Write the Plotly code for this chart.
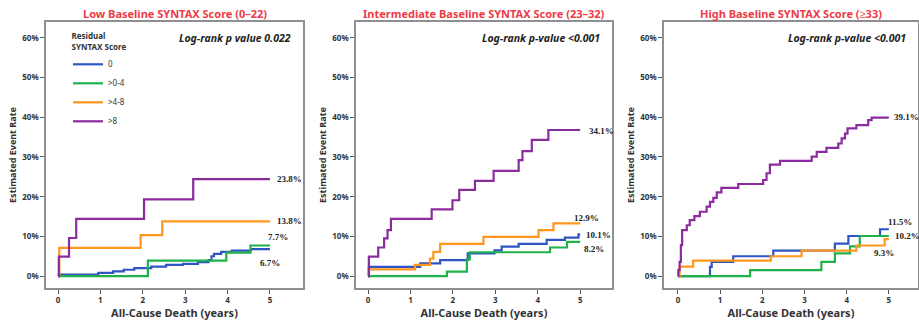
import plotly.graph_objects as go

# ---------------- data ----------------
panel_titles = ["Low Baseline SYNTAX Score (0–22)",
                "Intermediate Baseline SYNTAX Score (23–32)",
                "High Baseline SYNTAX Score (≥33)"]
pvalue_texts = ["Log-rank p value 0.022",
                "Log-rank p-value <0.001",
                "Log-rank p-value <0.001"]
group_names = ["0", ">0-4", ">4-8", ">8"]
group_colors = ["#2f55c4", "#1fb24a", "#ff961e", "#8a2c9e"]

y_tick_vals = [0, 10, 20, 30, 40, 50, 60]
y_tick_text = ["0%", "10%", "20%", "30%", "40%", "50%", "60%"]
x_tick_vals = [0, 1, 2, 3, 4, 5]

# Panel 1 (low)
p1_blue_t = [0, 0.02, 0.95, 1.3, 1.55, 1.8, 2.2, 2.55, 2.95, 3.3, 3.55, 3.62, 3.68, 3.85, 4.1, 4.55, 5.0]
p1_blue_v = [0, 0.4, 0.8, 1.2, 1.6, 2.0, 2.4, 2.8, 3.1, 3.5, 4.0, 5.0, 5.6, 6.1, 6.4, 6.8, 6.8]
p1_green_t = [0, 2.12, 3.97, 4.54, 5.0]
p1_green_v = [0, 3.9, 5.9, 7.7, 7.7]
p1_orange_t = [0, 0.03, 1.95, 2.46, 5.0]
p1_orange_v = [0, 7.1, 10.3, 13.8, 13.8]
p1_purple_t = [0, 0.02, 0.26, 0.43, 2.03, 3.19, 5.0]
p1_purple_v = [0, 4.9, 9.6, 14.4, 19.3, 24.4, 24.4]

# Panel 2 (intermediate)
p2_blue_t = [0, 0.02, 1.23, 1.70, 2.35, 2.98, 3.15, 3.55, 4.21, 4.64, 4.96, 5.0]
p2_blue_v = [0, 2.3, 3.2, 4.0, 5.7, 6.5, 7.4, 8.1, 9.1, 9.7, 10.5, 10.5]
p2_green_t = [0, 1.86, 2.33, 2.40, 4.29, 4.69, 5.0]
p2_green_v = [0, 1.1, 4.2, 6.0, 7.2, 8.6, 8.6]
p2_orange_t = [0, 0.02, 1.11, 1.46, 1.54, 1.70, 2.72, 4.02, 4.37, 5.0]
p2_orange_v = [0, 1.7, 2.8, 4.4, 6.1, 8.1, 9.9, 11.6, 13.3, 13.3]
p2_purple_t = [0, 0.02, 0.24, 0.38, 0.46, 0.54, 1.50, 1.99, 2.15, 2.52, 2.96, 3.55, 3.64, 3.86, 4.25, 5.0]
p2_purple_v = [0, 4.9, 7.2, 9.5, 11.6, 14.4, 16.8, 19.1, 21.7, 24.0, 26.5, 29.2, 31.5, 34.3, 36.8, 36.8]

# Panel 3 (high)
p3_blue_t = [0, 0.76, 0.80, 1.31, 2.26, 3.72, 4.04, 4.79, 5.0]
p3_blue_v = [0, 2.3, 3.6, 5.0, 6.4, 8.2, 10.1, 11.8, 11.8]
p3_green_t = [0, 1.71, 3.40, 3.72, 4.08, 4.31, 5.0]
p3_green_v = [0, 1.5, 3.6, 5.7, 7.5, 10.1, 10.1]
p3_orange_t = [0, 0.04, 0.36, 2.20, 2.93, 4.23, 4.90, 5.0]
p3_orange_v = [0, 2.4, 3.9, 5.0, 6.4, 7.7, 9.3, 9.3]
p3_purple_t = [0, 0.01, 0.04, 0.07, 0.10, 0.21, 0.28, 0.39, 0.52, 0.68, 0.76, 0.84, 0.92, 1.03, 1.43,
               2.02, 2.10, 2.18, 2.42, 3.17, 3.29, 3.52, 3.80, 3.88, 3.96, 4.02, 4.23, 4.51, 4.59, 5.0]
p3_purple_v = [0, 1.5, 3.6, 7.8, 11.6, 12.8, 14.1, 15.1, 16.2, 17.5, 18.7, 19.7, 21.1, 22.2, 23.2,
               24.2, 25.9, 28.1, 29.0, 30.1, 31.3, 32.3, 33.4, 34.7, 35.9, 37.2, 38.0, 39.3, 39.9, 39.9]

# end-of-curve labels (text, x, y)
p1_labels = ["23.8%", "13.8%", "7.7%", "6.7%"]
p1_label_x = [5.12, 5.12, 4.9, 4.72]
p1_label_y = [24.4, 14.0, 9.9, 3.3]
p2_labels = ["34.1%", "12.9%", "10.1%", "8.2%"]
p2_label_x = [5.15, 4.8, 5.1, 5.05]
p2_label_y = [36.6, 14.7, 10.4, 6.9]
p3_labels = ["39.1%", "11.5%", "10.2%", "9.3%"]
p3_label_x = [5.08, 4.93, 5.1, 4.6]
p3_label_y = [40.0, 13.6, 10.2, 5.8]

panels = [
    [(p1_blue_t, p1_blue_v), (p1_green_t, p1_green_v), (p1_orange_t, p1_orange_v), (p1_purple_t, p1_purple_v)],
    [(p2_blue_t, p2_blue_v), (p2_green_t, p2_green_v), (p2_orange_t, p2_orange_v), (p2_purple_t, p2_purple_v)],
    [(p3_blue_t, p3_blue_v), (p3_green_t, p3_green_v), (p3_orange_t, p3_orange_v), (p3_purple_t, p3_purple_v)],
]
labels = [(p1_labels, p1_label_x, p1_label_y), (p2_labels, p2_label_x, p2_label_y), (p3_labels, p3_label_x, p3_label_y)]

# ---------------- layout ----------------
W, H = 919, 324
x_domains_px = [(46, 303), (356, 612), (664, 918)]
x_ranges = [(-0.283, 5.78), (-0.283, 5.75), (-0.33, 5.69)]
y_range = (-3.0, 64.0)
y_dom = (1 - 288 / H, 1 - 22 / H)

FONT = "Noto Sans"
frame_col = "#8f8f8f"
text_col = "#333333"

fig = go.Figure()
for i, series in enumerate(panels):
    xa = "x" if i == 0 else f"x{i+1}"
    ya = "y" if i == 0 else f"y{i+1}"
    for j, (t, v) in enumerate(series):
        fig.add_trace(go.Scatter(
            x=t, y=v, mode="lines", line=dict(color=group_colors[j], width=2.2, shape="hv"),
            name=group_names[j], showlegend=(i == 0), xaxis=xa, yaxis=ya, hoverinfo="skip"))

annotations = []
for i in range(3):
    sfx = "" if i == 0 else str(i + 1)
    d0, d1 = x_domains_px[i]
    axis_common = dict(showgrid=False, zeroline=False, showline=True, mirror=True,
                       linecolor=frame_col, linewidth=1.5, ticks="outside", ticklen=4,
                       tickcolor="#555555", tickwidth=1,
                       tickfont=dict(family=FONT, size=8, color=text_col, weight="bold"))
    fig.layout[f"xaxis{sfx}"] = dict(
        domain=[d0 / W, d1 / W], range=list(x_ranges[i]), anchor=f"y{sfx}",
        tickvals=x_tick_vals,
        title=dict(text="All-Cause Death (years)", standoff=5,
                   font=dict(family=FONT, size=11, color=text_col, weight="bold")),
        **axis_common)
    fig.layout[f"yaxis{sfx}"] = dict(
        domain=list(y_dom), range=list(y_range), anchor=f"x{sfx}",
        tickvals=y_tick_vals, ticktext=y_tick_text,
        title=dict(text="Estimated Event Rate", standoff=4,
                   font=dict(family=FONT, size=9, color=text_col, weight="bold")),
        **axis_common)
    # panel title
    annotations.append(dict(text=panel_titles[i], xref="paper", yref="paper",
                            x=(d0 + d1) / 2 / W, y=1 - 14 / H, xanchor="center", yanchor="middle",
                            showarrow=False,
                            font=dict(family=FONT, size=11, color="#ee3b46", weight="bold")))
    # p-value
    annotations.append(dict(text=f"<i>{pvalue_texts[i]}</i>", xref=f"x{sfx} domain", yref=f"y{sfx} domain",
                            x=0.96, y=0.94, xanchor="right", yanchor="middle", showarrow=False,
                            font=dict(family=FONT, size=10.5, color="#222222", weight="bold")))
    # end labels
    txts, lx, ly = labels[i]
    for k in range(len(txts)):
        annotations.append(dict(text=txts[k], xref=f"x{sfx}", yref=f"y{sfx}", x=lx[k], y=ly[k],
                                xanchor="left", yanchor="middle", showarrow=False,
                                font=dict(family="Liberation Serif", size=9, color="#222222", weight="bold")))

fig.update_layout(
    width=W, height=H, margin=dict(l=0, r=0, t=0, b=0),
    paper_bgcolor="white", plot_bgcolor="white",
    annotations=annotations,
    legend=dict(x=68 / W, y=1 - 29 / H, xanchor="left", yanchor="top",
                bgcolor="rgba(0,0,0,0)", itemwidth=30, tracegroupgap=0,
                font=dict(family=FONT, size=8, color=text_col),
                title=dict(text="<b>Residual<br>SYNTAX Score</b>", side="top center",
                           font=dict(family=FONT, size=8, color=text_col))),
)

fig.write_html("out.html")
